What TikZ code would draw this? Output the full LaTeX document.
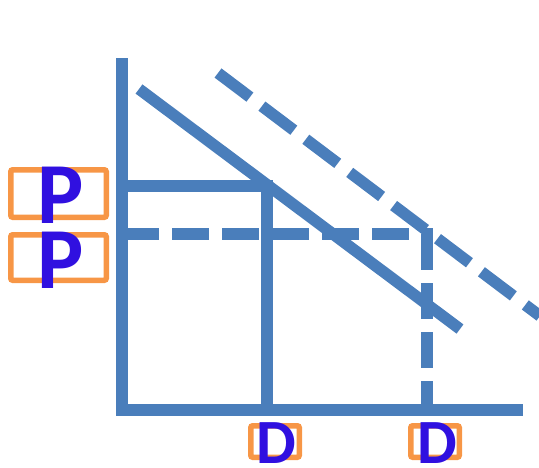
\documentclass[tikz,border=0pt]{standalone}
\usepackage{fontspec}
\setmainfont{Carlito}
\usetikzlibrary{positioning}
\definecolor{curveblue}{HTML}{4A7EBB}
\definecolor{tagorange}{HTML}{F79646}
\definecolor{letterblue}{HTML}{3010E0}

\begin{document}
\begin{tikzpicture}[x=1pt,y=-1pt, axis/.style={draw=curveblue,line width=11.5pt}, guide/.style={axis,dash pattern=on 37pt off 13pt}, shifted/.style={axis,dash pattern=on 40pt off 15pt}, tag/.style={draw=tagorange,line width=5.5pt,rounded corners=2pt,inner sep=0pt}, letter/.style={text=letterblue,inner sep=0pt,anchor=base}]
\useasboundingbox (0,0) rectangle (539,467);
\coordinate (yTop) at (122,58);\coordinate (origin) at (122,410);\coordinate (xEnd) at (523,410);
\coordinate (demandStart) at (139,89);\coordinate (demandEnd) at (460,329);
\coordinate (shiftStart) at (218,73);\coordinate (shiftEnd) at (540,316);
\coordinate (priceHigh) at (122,186);\coordinate (qtyLow) at (267,410);
\coordinate (priceLow) at (122,234);\coordinate (qtyHigh) at (427,410);\coordinate (guideEnd) at (432.75,234);
\node[tag,minimum width=95.5pt,minimum height=47.5pt] (pTagHigh) at (58.5,193.5) {};
\node[tag,minimum width=95.5pt,minimum height=45.5pt] (pTagLow) at (58.5,257.5) {};
\node[tag,minimum width=48.5pt,minimum height=31.5pt] (dTagLeft) at (275,441.5) {};
\node[tag,minimum width=48.5pt,minimum height=31.5pt] (dTagRight) at (435,441.5) {};
\node[letter,font=\fontsize{87}{90}\selectfont\bfseries] (pHigh) at (61,223) {P};
\node[letter,font=\fontsize{87}{90}\selectfont\bfseries] (pLow) at (61,288) {P};
\node[letter,font=\fontsize{63}{66}\selectfont\bfseries] (dLeft) at (276,463) {D};
\node[letter,font=\fontsize{63}{66}\selectfont\bfseries] (dRight) at (437,463) {D};
\draw[axis] (yTop)--(origin)--(xEnd);
\draw[axis] (demandStart)--(demandEnd);
\draw[shifted] (shiftStart)--(shiftEnd);
\draw[axis] (priceHigh)-|(qtyLow);
\draw[guide] (priceLow)--(guideEnd);
\draw[axis,dash pattern=on 36pt off 13pt] (qtyHigh |- priceLow)--(qtyHigh);
\end{tikzpicture}
\end{document}
